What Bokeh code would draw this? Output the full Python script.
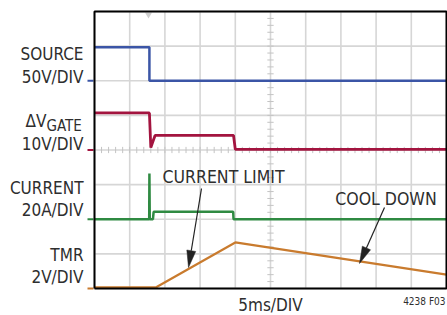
import numpy as np
from bokeh.plotting import figure
from bokeh.models import Range1d, Label
from bokeh.embed import file_html
from bokeh.resources import INLINE

# ---- data (time in ms, 5 ms/div; channel values in their own units) ----
source_t = [0, 7.8, 7.8, 50]
source_v = [48.5, 48.5, 0, 0]            # 50 V/div

gate_t = [0, 7.8, 8.0, 8.6, 19.75, 20.0, 50]
gate_v = [10.7, 10.7, 0.7, 4.2, 4.2, 0.2, 0.2]   # 10 V/div

current_t = [0, 7.77, 7.8, 7.85, 8.3, 8.4, 19.7, 19.75, 50]
current_a = [0, 0, 26.4, 0, 0, 4.3, 4.3, 0, 0]   # 20 A/div

tmr_t = [0, 8.7, 20.0, 50]
tmr_v = [0.06, 0.06, 2.66, 0.8]          # 2 V/div

channels = ["SOURCE", "GATE", "CURRENT", "TMR"]
ground_div = [6, 4, 2, 0]
scale_per_div = [50, 10, 20, 2]
colors = ["#3b55a6", "#a3143f", "#2f8a42", "#c97b2e"]
widths = [2.5, 2.8, 2.5, 2.2]

x_ticks = list(range(0, 51, 5))   # 5 ms/div, 10 divisions
y_ticks = list(range(0, 9))       # 8 divisions

FONT = "'DejaVu Sans Condensed', Roboto, sans-serif"
TXT = "#2e2e2e"

W, H = 447, 315
# scope screen spans canvas x 94..446, y 11..288
SX0, SX1, SY0, SY1 = 94, 446, 11, 288

def X(px):
    return (px - SX0) / (SX1 - SX0) * 50

def Y(py):
    return (SY1 - py) / (SY1 - SY0) * 8

p = figure(width=W, height=H, output_backend="svg", toolbar_location=None,
           x_axis_location=None, y_axis_location=None,
           x_range=Range1d(X(0), X(W)), y_range=Range1d(Y(H), Y(0)),
           min_border=0)
p.outline_line_color = None
p.background_fill_color = "white"
p.border_fill_color = "white"
p.grid.visible = False

# grid lines of the scope screen
gx = np.array(x_ticks, dtype=float)
p.segment(x0=gx, x1=gx, y0=0, y1=8, line_color="#d6d6d6", line_width=1.6)
gy = np.array(y_ticks, dtype=float)
p.segment(x0=0, x1=50, y0=gy, y1=gy, line_color="#d6d6d6", line_width=1.6)

# minor ticks on the centre lines
mx = np.arange(0, 50.01, 1.0)
p.segment(x0=mx, x1=mx, y0=4 - 0.09, y1=4 + 0.09, line_color="#c4c4c4", line_width=1)
my = np.arange(0, 8.01, 0.2)
p.segment(x0=25 - 0.45, x1=25 + 0.45, y0=my, y1=my, line_color="#c4c4c4", line_width=1)

# trigger marker
p.scatter(x=[X(148)], y=[Y(14)], marker="inverted_triangle", size=7,
          fill_color="#cfcfcf", line_color=None)

# traces and ground markers
series = [(source_t, source_v), (gate_t, gate_v), (current_t, current_a), (tmr_t, tmr_v)]
for (t, v), g, s, c, w in zip(series, ground_div, scale_per_div, colors, widths):
    yy = g + np.asarray(v, dtype=float) / s
    p.line(t, yy, line_color=c, line_width=w)
    p.segment(x0=X(87), x1=X(93), y0=g, y1=g, line_color=c, line_width=2)

# screen border
p.line([0, 50, 50, 0, 0], [0, 0, 8, 8, 0], line_color="black", line_width=2)

# labels (py is the wanted baseline; the renderer sits text ~0.38em low)
def lab(text, px, py, size=17, align="right", k=0.38):
    p.add_layout(Label(x=X(px), y=Y(py - k * size), text=text, text_font=FONT,
                       text_font_size=f"{size}px", text_color=TXT,
                       text_align=align, text_baseline="alphabetic"))

lab("SOURCE", 83, 60)
lab("50V/DIV", 83, 83)
lab("ΔV", 46, 127)
lab("GATE", 46, 131, size=15, align="left")
lab("10V/DIV", 83, 150)
lab("CURRENT", 83, 194)
lab("20A/DIV", 83, 216)
lab("TMR", 83, 261)
lab("2V/DIV", 83, 283)

lab("CURRENT LIMIT", 223, 183, size=17.5, align="center")
lab("COOL DOWN", 385.5, 205, size=17.5, align="center")
lab("5ms/DIV", 270, 311, size=17, align="center")
lab("4238 F03", 445, 303, size=10, align="right", k=0.2)

# annotation arrows with slim filled heads
def arrow(x0, y0, x1, y1, head_len=17, head_w=4.5):
    d = np.array([x1 - x0, y1 - y0], dtype=float)
    u = d / np.hypot(*d)
    n = np.array([-u[1], u[0]])
    base = np.array([x1, y1]) - u * head_len
    p.line([X(x0), X(base[0])], [Y(y0), Y(base[1])], line_color="#222222", line_width=1.2)
    pts = [np.array([x1, y1]), base + n * head_w, base - n * head_w]
    p.patch([X(q[0]) for q in pts], [Y(q[1]) for q in pts],
            fill_color="#222222", line_color="#222222", line_width=0.5)

arrow(201, 188, 188, 267)
arrow(384, 207, 359, 263)

open("out.html", "w").write(file_html(p, INLINE))
